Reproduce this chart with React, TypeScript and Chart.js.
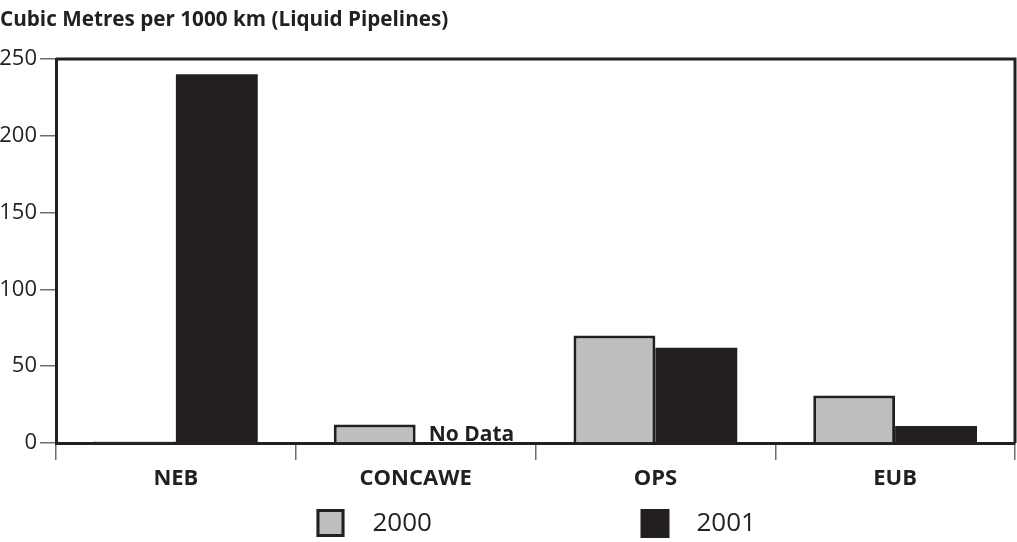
import React, { useEffect, useRef } from "react";
import { Chart, registerables } from "chart.js";

Chart.register(...registerables);

const categories = ["NEB", "CONCAWE", "OPS", "EUB"];
const series2000: (number | null)[] = [1, 12, 70, 31];
const series2001: (number | null)[] = [240, null, 62, 11];
const seriesNames = ["2000", "2001"];
const yTickValues = [0, 50, 100, 150, 200, 250];
const titleText = "Cubic Metres per 1000 km (Liquid Pipelines)";
const noDataText = "No Data";

const INK = "#231F20";
const GREY = "#BCBEC0";
const TICK = "#6D6E71";
const FONT = "'Open Sans', 'Noto Sans', sans-serif";

const decorPlugin = {
  id: "decor",
  afterDraw(chart: any) {
    const { ctx, chartArea: a } = chart;
    ctx.save();
    // frame (top and right)
    ctx.strokeStyle = INK;
    ctx.lineWidth = 3;
    ctx.beginPath();
    ctx.moveTo(a.left, a.top);
    ctx.lineTo(a.right, a.top);
    ctx.lineTo(a.right, a.bottom);
    ctx.stroke();

    // title
    ctx.fillStyle = INK;
    ctx.font = `bold 20.7px ${FONT}`;
    ctx.textAlign = "left";
    ctx.textBaseline = "alphabetic";
    ctx.fillText(titleText, 0, 26);

    // "No Data" note next to the CONCAWE 2000 bar
    const el = chart.getDatasetMeta(0).data[1];
    if (el) {
      const { x, width } = el.getProps(["x", "width"], true);
      const y0 = chart.scales.y.getPixelForValue(0);
      ctx.font = `bold 21px ${FONT}`;
      ctx.textBaseline = "alphabetic";
      ctx.fillText(noDataText, x + width / 2 + 13, y0 - 2);
    }

    // legend
    const cx = (a.left + a.right) / 2;
    const boxes = [cx - 219, cx + 105];
    const boxSize = 28;
    const by = 509;
    ctx.font = `26px ${FONT}`;
    ctx.textBaseline = "middle";
    seriesNames.forEach((name, i) => {
      const bx = boxes[i];
      if (i === 0) {
        ctx.fillStyle = GREY;
        ctx.fillRect(bx, by, boxSize, boxSize);
        ctx.strokeStyle = INK;
        ctx.lineWidth = 3;
        ctx.strokeRect(bx + 1.5, by + 1.5, boxSize - 3, boxSize - 3);
      } else {
        ctx.fillStyle = INK;
        ctx.fillRect(bx, by, boxSize + 1, boxSize + 1);
      }
      ctx.fillStyle = INK;
      ctx.fillText(name, bx + 56, by + boxSize / 2 + 1);
    });
    ctx.restore();
  },
};

export default function App() {
  const ref = useRef<HTMLCanvasElement>(null);

  useEffect(() => {
    if (!ref.current) return;
    const chart = new Chart(ref.current, {
      type: "bar",
      data: {
        labels: categories,
        datasets: [
          {
            label: seriesNames[0],
            data: series2000,
            backgroundColor: GREY,
            borderColor: INK,
            borderWidth: 3,
            categoryPercentage: 0.683,
            barPercentage: 1,
          },
          {
            label: seriesNames[1],
            data: series2001,
            backgroundColor: INK,
            borderWidth: 0,
            categoryPercentage: 0.683,
            barPercentage: 1,
          },
        ],
      },
      options: {
        responsive: false,
        animation: false,
        devicePixelRatio: 1,
        layout: { padding: { top: 59, right: 2, left: 0, bottom: 0 } },
        plugins: {
          legend: { display: false },
          title: { display: false },
          tooltip: { enabled: false },
        },
        scales: {
          x: {
            type: "category",
            offset: true,
            grid: {
              offset: true,
              drawOnChartArea: false,
              drawTicks: true,
              tickLength: 17,
              color: TICK,
              lineWidth: 1.5,
            },
            border: { display: true, color: INK, width: 3 },
            ticks: {
              color: INK,
              font: { family: FONT, size: 22, weight: "bold" },
              padding: 6,
              maxRotation: 0,
            },
            afterFit(scale: any) {
              scale.height = 99;
            },
          },
          y: {
            min: 0,
            max: 250,
            afterBuildTicks(scale: any) {
              scale.ticks = yTickValues.map((v) => ({ value: v }));
            },
            grid: {
              drawOnChartArea: false,
              drawTicks: true,
              tickLength: 16,
              color: TICK,
              lineWidth: 1.5,
            },
            border: { display: true, color: INK, width: 3 },
            ticks: {
              color: INK,
              font: { family: FONT, size: 22 },
              padding: 3,
            },
            afterFit(scale: any) {
              scale.width = 56;
            },
          },
        },
      },
      plugins: [decorPlugin],
    });
    return () => chart.destroy();
  }, []);

  return (
    <div style={{ position: "absolute", left: 0, top: 0, width: 1017, height: 542, background: "#fff" }}>
      <canvas ref={ref} width={1017} height={542} style={{ display: "block" }} />
    </div>
  );
}
